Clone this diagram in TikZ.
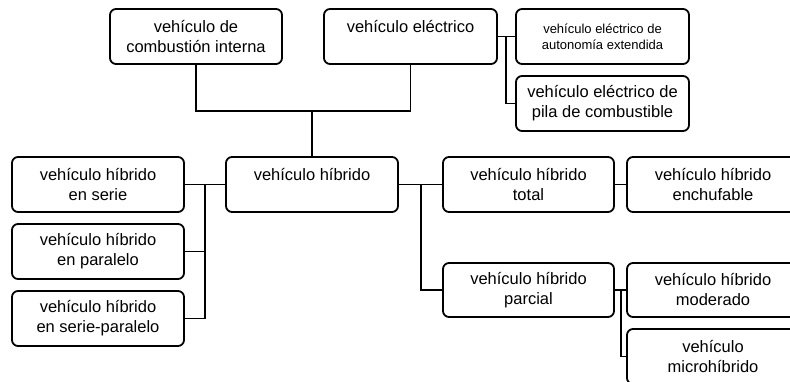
\documentclass[tikz,border=0pt]{standalone}
\usepackage{fontspec}
\setmainfont{Liberation Sans}
\begin{document}
\begin{tikzpicture}[x=1pt,y=-1pt,
  box/.style={draw, line width=1.8pt, rounded corners=6pt, fill=white,
    minimum width=172pt, minimum height=55pt, inner sep=0pt, align=center,
    font=\fontsize{16.5}{20}\selectfont},
  smallbox/.style={box, font=\fontsize{13}{16}\selectfont},
  conn/.style={line width=1.8pt}]
\useasboundingbox (0,0) rectangle (790,382);
\clip (0,0) rectangle (790,382);
\fill[white] (0,0) rectangle (790,382);
% nodes
\node[box] (comb) at (196,36.5) {vehículo de\\combustión interna};
\node[box, minimum width=173pt] (elec) at (410.5,36.5) {vehículo eléctrico\\\mbox{}};
\node[smallbox, minimum width=173pt] (auton) at (602.5,36.5) {vehículo eléctrico de\\autonomía extendida};
\node[box, minimum width=173pt] (pila) at (602.5,103.5) {vehículo eléctrico de\\pila de combustible};
\node[box] (serie) at (98,184.5) {vehículo híbrido\\en serie};
\node[box] (paral) at (98,251.5) {vehículo híbrido\\en paralelo};
\node[box] (serpar) at (98,318.5) {vehículo híbrido\\en serie-paralelo};
\node[box] (hyb) at (312,184.5) {vehículo híbrido\\\mbox{}};
\node[box, minimum width=171pt] (total) at (528.5,184.5) {vehículo híbrido\\total};
\node[box] (enchuf) at (713,184.5) {vehículo híbrido\\enchufable};
\node[box, minimum width=171pt, minimum height=54pt] (parcial) at (528.5,290) {vehículo híbrido\\parcial};
\node[box, minimum height=54pt] (moder) at (713,290) {vehículo híbrido\\moderado};
\node[box] (micro) at (713,356.5) {vehículo\\microhíbrido};
% bus coordinates
\coordinate (hub) at (312,111);
\coordinate (ebus) at (506,36.5);
\coordinate (lbus) at (205,184.5);
\coordinate (rbus) at (421,184.5);
\coordinate (pbus) at (621,290);
% connectors
\draw[conn] (comb.south) |- (hub) -| (elec.south);
\draw[conn] (hub) -- (hyb.north);
\draw[conn] (elec.east) -- (auton.west);
\draw[conn] (ebus) |- (pila.west);
\draw[conn] (hyb.west) -- (serie.east);
\draw[conn] (lbus) |- (paral.east);
\draw[conn] (lbus) |- (serpar.east);
\draw[conn] (hyb.east) -- (total.west);
\draw[conn] (rbus) |- (parcial.west);
\draw[conn] (total.east) -- (enchuf.west);
\draw[conn] (parcial.east) -- (moder.west);
\draw[conn] (pbus) |- (micro.west);
\end{tikzpicture}
\end{document}
